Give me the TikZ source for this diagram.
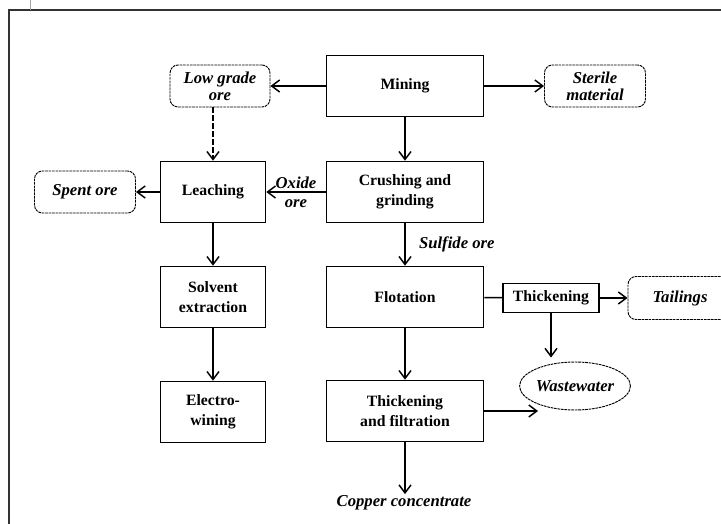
\documentclass[tikz,border=0pt]{standalone}
\usepackage{fontspec}
\setmainfont{Liberation Serif}
\usetikzlibrary{arrows.meta,shapes.geometric}

\begin{document}
\begin{tikzpicture}[x=0.75pt,y=-0.75pt,
		proc/.style={draw,line width=1.2pt,align=center,inner sep=1pt,minimum width=117.75pt,minimum height=45.75pt,font=\fontsize{11.8}{15}\selectfont\bfseries},
		sproc/.style={proc,minimum width=78.75pt},
		prod/.style={draw,dash pattern=on 2pt off 0.6pt,line width=0.7pt,rounded corners=6pt,align=center,inner sep=1pt,minimum width=75pt,minimum height=31.5pt,font=\fontsize{12.5}{13}\selectfont\bfseries\itshape},
		lbl/.style={align=center,inner sep=1pt,font=\fontsize{12.5}{14}\selectfont\bfseries\itshape},
		flow/.style={-{Straight Barb[length=6pt,width=9pt]},line width=1.1pt}]
	\clip (0,0) rectangle (721,524);

	% frame
	\draw[line width=1.4pt,black!80] (9,524) -- (9,10) -- (721,10);
	\draw[line width=0.5pt,black!35] (30,0) -- (30,10);

	\node[proc] (mine) at (405,86) {Mining};
	\node[prod] (lowore) at (220,86) {Low grade\\ore};
	\node[prod,minimum width=75.75pt] (steril) at (595,86) {Sterile\\material};

	\node[sproc] (leach) at (213,192) {Leaching};
	\node[proc] (crush) at (405,192) {Crushing and\\grinding};
	\node[prod,minimum width=75.75pt] (spent) at (85,192) {Spent ore};

	\node[sproc] (solv) at (213,297) {Solvent\\extraction};
	\node[proc] (flot) at (405,297) {Flotation};
	\node[proc,line width=0.9pt,minimum width=72pt,minimum height=21.75pt] (thick) at (551,298) {Thickening};
	\node[prod,minimum width=78pt,minimum height=32.25pt] (tail) at (680,298) {Tailings};
	\node[ellipse,draw,dash pattern=on 2pt off 0.6pt,line width=0.7pt,inner sep=0pt,minimum width=69.75pt,minimum height=36pt,font=\fontsize{12.5}{13}\selectfont\bfseries\itshape] (waste) at (575,386) {Wastewater};

	\node[sproc] (elec) at (213,412) {Electro-\\wining};
	\node[proc] (thfil) at (405,411) {Thickening\\and filtration};
	\node[lbl] (copper) at (404,503) {Copper concentrate};
	\coordinate (wwin) at (538,411);

	\draw[flow] (mine) -- (lowore);
	\draw[flow] (mine) -- (steril);
	\draw[flow] (mine) -- (crush);
	\draw[flow,dash pattern=on 4pt off 2pt] (lowore.south -| leach.north) -- (leach.north);
	\draw[flow] (crush) -- node[lbl] {Oxide\\ore} (leach);
	\draw[flow] (leach) -- (spent);
	\draw[flow] (leach) -- (solv);
	\draw[flow] (solv) -- (elec);
	\draw[flow] (crush) -- node[lbl,anchor=west,xshift=9pt] {Sulfide ore} (flot);
	\draw[line width=1.1pt] (flot) -- (thick);
	\draw[flow] (thick) -- (tail);
	\draw[flow] (thick.south) -- ([yshift=3pt]thick.south |- waste.north);
	\draw[flow] (flot) -- (thfil);
	\draw[flow] (thfil.east) -- (wwin);
	\draw[flow] (thfil.south) -- (thfil.south |- copper.north);
\end{tikzpicture}
\end{document}
